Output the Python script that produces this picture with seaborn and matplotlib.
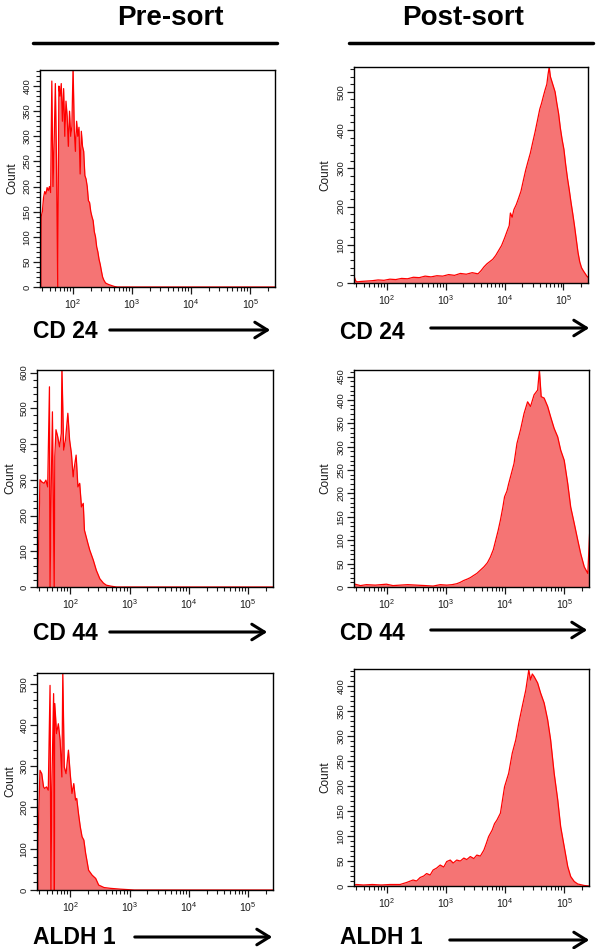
import numpy as np
import pandas as pd
import matplotlib
matplotlib.use("Agg")
import matplotlib.pyplot as plt
import matplotlib.ticker as mticker
from matplotlib.lines import Line2D
from matplotlib.patches import FancyArrowPatch
import seaborn as sns

# Flow cytometry histograms.
# positions are log10 fluorescence intensity, counts are events per bin

# CD 24 pre-sort
cd24_pre_pos = [1.44, 1.45, 1.46, 1.48, 1.50, 1.52, 1.54, 1.56, 1.58, 1.60, 1.62, 1.64, 1.66,
                1.68, 1.70, 1.72, 1.74, 1.76, 1.78, 1.80, 1.82, 1.84, 1.86, 1.88, 1.90, 1.92,
                1.94, 1.96, 1.98, 2.00, 2.02, 2.04, 2.06, 2.08, 2.10, 2.12, 2.14, 2.16, 2.18,
                2.20, 2.22, 2.24, 2.26, 2.28, 2.30, 2.32, 2.34, 2.36, 2.38, 2.40, 2.42, 2.44,
                2.46, 2.48, 2.50, 2.52, 2.55, 2.60, 2.65, 2.70, 2.75, 5.42]
cd24_pre_cnt = [440, 0, 140, 150, 178, 190, 185, 198, 192, 200, 188, 410, 200,
                290, 405, 250, 0, 400, 380, 405, 330, 395, 300, 370, 340, 280,
                350, 300, 320, 440, 315, 270, 330, 300, 318, 225, 310, 280, 270,
                222, 215, 200, 172, 168, 150, 140, 132, 110, 100, 80, 70, 55,
                45, 32, 20, 14, 8, 5, 3, 1, 0, 0]

# CD 24 post-sort
cd24_post_pos = [1.44, 1.47, 1.50, 1.55, 1.65, 1.75, 1.85, 1.95, 2.05, 2.15, 2.25, 2.35, 2.45,
                 2.55, 2.65, 2.75, 2.85, 2.95, 3.05, 3.15, 3.25, 3.35, 3.45, 3.55, 3.60, 3.65,
                 3.70, 3.75, 3.80, 3.85, 3.90, 3.95, 4.00, 4.05, 4.08, 4.10, 4.13, 4.16, 4.20,
                 4.24, 4.28, 4.32, 4.36, 4.40, 4.44, 4.48, 4.52, 4.56, 4.60, 4.63, 4.66, 4.69,
                 4.72, 4.74, 4.76, 4.78, 4.80, 4.83, 4.86, 4.89, 4.92, 4.95, 4.98, 5.01, 5.04,
                 5.07, 5.10, 5.13, 5.16, 5.19, 5.22, 5.25, 5.28, 5.31, 5.34, 5.37, 5.40, 5.42]
cd24_post_cnt = [18, 5, 3, 4, 5, 6, 8, 7, 10, 9, 12, 11, 15,
                 14, 18, 16, 19, 18, 22, 20, 25, 23, 27, 24, 32, 42,
                 50, 56, 62, 72, 85, 98, 117, 138, 150, 183, 172, 192, 205,
                 222, 240, 268, 295, 318, 340, 368, 395, 425, 455, 470, 488, 505,
                 520, 545, 565, 540, 530, 515, 500, 470, 443, 405, 375, 350, 310,
                 275, 245, 212, 182, 150, 115, 80, 55, 40, 32, 25, 18, 15]

# CD 44 pre-sort
cd44_pre_pos = [1.43, 1.45, 1.47, 1.49, 1.52, 1.56, 1.59, 1.62, 1.65, 1.66, 1.68, 1.70, 1.73,
                1.74, 1.76, 1.79, 1.82, 1.85, 1.86, 1.89, 1.92, 1.96, 1.99, 2.02, 2.05, 2.07,
                2.10, 2.13, 2.16, 2.19, 2.22, 2.24, 2.27, 2.30, 2.33, 2.39, 2.44, 2.50, 2.56,
                2.61, 2.70, 2.78, 5.44]
cd44_pre_cnt = [620, 0, 140, 300, 294, 290, 299, 280, 560, 0, 280, 490, 0,
                365, 440, 420, 392, 430, 620, 383, 411, 486, 411, 374, 308, 336,
                369, 280, 290, 224, 234, 159, 140, 121, 103, 75, 47, 23, 11,
                5, 2, 0, 0]

# CD 44 post-sort
cd44_post_pos = [1.43, 1.46, 1.55, 1.65, 1.80, 1.99, 2.10, 2.22, 2.35, 2.50, 2.65, 2.78, 2.90,
                 3.01, 3.10, 3.18, 3.24, 3.30, 3.36, 3.41, 3.47, 3.52, 3.58, 3.64, 3.70, 3.75,
                 3.80, 3.84, 3.88, 3.92, 3.96, 3.99, 4.03, 4.06, 4.10, 4.15, 4.20, 4.26, 4.32,
                 4.38, 4.43, 4.49, 4.55, 4.58, 4.61, 4.66, 4.72, 4.77, 4.83, 4.89, 4.94, 5.00,
                 5.06, 5.11, 5.17, 5.23, 5.28, 5.34, 5.40, 5.43]
cd44_post_cnt = [4, 6, 3, 5, 4, 6, 3, 4, 5, 4, 3, 2, 5,
                 4, 5, 7, 10, 14, 17, 20, 25, 29, 36, 43, 52, 64,
                 80, 100, 120, 143, 170, 193, 205, 221, 240, 264, 307, 336, 371,
                 396, 386, 411, 421, 464, 407, 404, 386, 364, 339, 321, 293, 271,
                 221, 171, 136, 100, 71, 43, 29, 114]

# ALDH 1 pre-sort
aldh_pre_pos = [1.43, 1.45, 1.46, 1.49, 1.52, 1.55, 1.57, 1.60, 1.63, 1.66, 1.675, 1.69, 1.72,
                1.733, 1.74, 1.77, 1.80, 1.83, 1.86, 1.875, 1.90, 1.93, 1.97, 2.00, 2.03, 2.06,
                2.09, 2.11, 2.14, 2.17, 2.20, 2.23, 2.26, 2.28, 2.31, 2.37, 2.43, 2.48, 2.57,
                2.68, 2.85, 3.08, 5.43]
aldh_pre_cnt = [530, 0, 137, 290, 282, 250, 246, 250, 242, 496, 0, 250, 476,
                0, 452, 379, 403, 363, 274, 530, 298, 282, 339, 282, 234, 258,
                218, 222, 185, 153, 129, 121, 89, 73, 48, 36, 28, 12, 6,
                4, 2, 0, 0]

# ALDH 1 post-sort
aldh_post_pos = [1.43, 1.45, 1.48, 1.60, 1.75, 1.90, 2.05, 2.22, 2.33, 2.44, 2.50, 2.56, 2.62,
                 2.67, 2.73, 2.78, 2.84, 2.90, 2.96, 3.01, 3.07, 3.12, 3.18, 3.24, 3.30, 3.35,
                 3.41, 3.47, 3.52, 3.58, 3.64, 3.68, 3.72, 3.78, 3.82, 3.86, 3.92, 3.99, 4.06,
                 4.12, 4.18, 4.23, 4.29, 4.35, 4.40, 4.43, 4.46, 4.49, 4.55, 4.60, 4.66, 4.72,
                 4.77, 4.83, 4.89, 4.94, 5.00, 5.06, 5.11, 5.17, 5.23, 5.34, 5.43]
aldh_post_cnt = [15, 2, 3, 2, 3, 2, 3, 3, 7, 12, 10, 17, 20,
                 25, 22, 32, 36, 42, 38, 49, 52, 46, 52, 50, 56, 53,
                 59, 55, 62, 60, 72, 85, 99, 112, 125, 132, 146, 199, 226,
                 266, 293, 326, 360, 393, 433, 413, 425, 420, 407, 387, 367, 333,
                 293, 226, 173, 119, 79, 39, 19, 9, 4, 1, 0]

markers = ["CD 24", "CD 44", "ALDH 1"]
columns = ["Pre-sort", "Post-sort"]
y_max = [[432, 565], [607, 464], [526, 435]]
y_step = [[50, 100], [100, 50], [100, 50]]

series = [[(cd24_pre_pos, cd24_pre_cnt), (cd24_post_pos, cd24_post_cnt)],
          [(cd44_pre_pos, cd44_pre_cnt), (cd44_post_pos, cd44_post_cnt)],
          [(aldh_pre_pos, aldh_pre_cnt), (aldh_post_pos, aldh_post_cnt)]]

W, H = 600, 949
# panel frames in pixels: left, top, right, bottom
frames = [[(40, 70, 275, 287), (354, 67, 588, 283)],
          [(37, 370, 273, 587), (354, 370, 589, 587)],
          [(37, 673, 273, 890), (354, 669, 589, 886)]]
label_x = [33, 340]
label_y = [[331, 333], [633, 634], [937, 937]]
# right edge (px) of the rotated "Count" label
count_x = [[18, 331], [16, 331], [16, 331]]
arrows = [[(107, 273, 330), (428, 592, 328)],
          [(107, 270, 632), (428, 590, 630)],
          [(132, 275, 937), (447, 592, 940)]]

FILL = "#f57474"
LINE = "#ff0000"
INK = "#1a1a1a"

sns.set_theme(style="white")
plt.rcParams["font.family"] = ["Liberation Sans", "DejaVu Sans"]
plt.rcParams["mathtext.default"] = "regular"
plt.rcParams["text.color"] = "black"

fig = plt.figure(figsize=(W / 100, H / 100), dpi=100)


def px_rect(l, t, r, b):
    return [l / W, 1 - b / H, (r - l) / W, (b - t) / H]


for i in range(3):
    for j in range(2):
        pos, cnt = series[i][j]
        assert len(pos) == len(cnt)
        l, t, r, b = frames[i][j]
        ax = fig.add_axes(px_rect(l, t, r, b))
        df = pd.DataFrame({"intensity": 10 ** np.asarray(pos), "count": cnt})
        ax.fill_between(df["intensity"], df["count"], color=FILL, lw=0)
        sns.lineplot(data=df, x="intensity", y="count", ax=ax, color=LINE, lw=0.9,
                     estimator=None, sort=False)
        ax.set_xscale("log")
        ax.set_xlim(10 ** 1.44, 10 ** 5.42)
        ax.set_ylim(0, y_max[i][j])

        ax.xaxis.set_major_locator(mticker.LogLocator(base=10, numticks=10))
        ax.xaxis.set_major_formatter(mticker.LogFormatterMathtext())
        ax.xaxis.set_minor_locator(mticker.LogLocator(base=10, subs=np.arange(2, 10), numticks=20))
        ax.xaxis.set_minor_formatter(mticker.NullFormatter())
        ax.yaxis.set_major_locator(mticker.MultipleLocator(y_step[i][j]))
        ax.yaxis.set_minor_locator(mticker.MultipleLocator(y_step[i][j] / 5))

        ax.tick_params(axis="both", which="major", direction="out", length=5, width=0.9,
                       color=INK, labelcolor=INK, bottom=True, left=True)
        ax.tick_params(axis="both", which="minor", direction="out", length=2.8, width=0.8,
                       color=INK, bottom=True, left=True)
        ax.tick_params(axis="x", labelsize=7.5, pad=2)
        ax.tick_params(axis="y", labelsize=6.8, pad=1, labelrotation=90)
        for lab in ax.get_yticklabels():
            lab.set_va("center")

        ax.set_xlabel("")
        ax.set_ylabel("Count", fontsize=8.5, color=INK)
        ax.yaxis.set_label_coords((count_x[i][j] - l) / (r - l), 0.5)
        for sp in ax.spines.values():
            sp.set_color("black")
            sp.set_linewidth(1.0)

        # marker name and arrow under each panel
        fig.text(label_x[j] / W, 1 - label_y[i][j] / H, markers[i], ha="left", va="center",
                 fontsize=16.5, fontweight="bold", color="black")
        x0, x1, ya = arrows[i][j]
        fig.add_artist(FancyArrowPatch((x0 / W, 1 - ya / H), (x1 / W, 1 - ya / H),
                                       transform=fig.transFigure,
                                       arrowstyle="->,head_length=0.45,head_width=0.28",
                                       mutation_scale=20, lw=2.2, color="black"))

# column headers with underline
for j, (cx, l, r) in enumerate([(170, 33, 277), (463, 349, 593)]):
    fig.text(cx / W, 1 - 18 / H, columns[j], ha="center", va="center",
             fontsize=20, fontweight="bold", color="black")
    fig.add_artist(Line2D([l / W, r / W], [1 - 43 / H, 1 - 43 / H], lw=2.5, color="black"))

fig.savefig("out.png", dpi=100)
